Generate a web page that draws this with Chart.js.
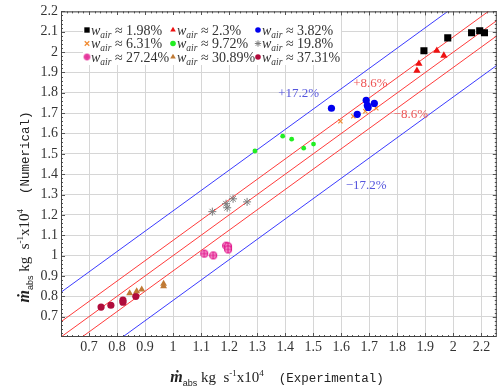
<!DOCTYPE html>
<html>
<head>
<meta charset="utf-8">
<script src="https://cdn.jsdelivr.net/npm/chart.js@4"></script>
<style>
  html, body { margin: 0; padding: 0; background: #fff; }
</style>
</head>
<body>
<canvas id="myChart" width="502" height="389"></canvas>
<script>
// DATA (experimental x, numerical y) per air fraction
const seriesLabels = ["1.98%", "2.3%", "3.82%", "6.31%", "9.72%", "19.8%", "27.24%", "30.89%", "37.31%"];

const w198X = [1.895, 1.980, 2.065, 2.094, 2.111];
const w198Y = [2.007, 2.070, 2.095, 2.105, 2.095];
const w23X = [1.870, 1.877, 1.941, 1.966];
const w23Y = [1.909, 1.943, 2.007, 1.983];
const w382X = [1.565, 1.657, 1.689, 1.693, 1.696, 1.718];
const w382Y = [1.724, 1.694, 1.763, 1.738, 1.728, 1.748];
const w631X = [1.597, 1.643, 1.686, 1.725];
const w631Y = [1.660, 1.685, 1.709, 1.724];
const w972X = [1.292, 1.391, 1.423, 1.466, 1.501];
const w972Y = [1.514, 1.587, 1.572, 1.528, 1.548];
const w198bX = [1.140, 1.189, 1.193, 1.214, 1.264];
const w198bY = [1.216, 1.255, 1.235, 1.279, 1.264];
const w2724X = [1.111, 1.143, 1.189, 1.196, 1.196];
const w2724Y = [1.010, 1.001, 1.049, 1.045, 1.030];
const w3089X = [0.845, 0.870, 0.888, 0.966, 0.966];
const w3089Y = [0.815, 0.825, 0.834, 0.862, 0.850];
const w3731X = [0.743, 0.778, 0.821, 0.821, 0.867];
const w3731Y = [0.747, 0.756, 0.781, 0.771, 0.800];

// error band lines (endpoints)
const bandX = [0.4, 2.4];
const bluePlusY = [0.62, 2.62];
const redPlusY = [0.475, 2.475];
const parityY = [0.4, 2.4];
const redMinusY = [0.325, 2.325];
const blueMinusY = [0.18, 2.18];

// band label anchors
const bandLabels = ["+17.2%", "+8.6%", "\u22128.6%", "\u221217.2%"];
const bandLabelX = [1.448, 1.704, 1.848, 1.689];
const bandLabelY = [1.797, 1.846, 1.694, 1.343];

// ticks
const xTickValues = [0.7, 0.8, 0.9, 1.0, 1.1, 1.2, 1.3, 1.4, 1.5, 1.6, 1.7, 1.8, 1.9, 2.0, 2.1];
const xTickLabels = ["0.7", "0.8", "0.9", "1", "1.1", "1.2", "1.3", "1.4", "1.5", "1.6", "1.7", "1.8", "1.9", "2", "2.2"];
const yTickValues = [0.7, 0.8, 0.9, 1.0, 1.1, 1.2, 1.3, 1.4, 1.5, 1.6, 1.7, 1.8, 1.9, 2.0, 2.1, 2.2];
const yTickLabels = ["0.7", "0.8", "0.9", "1", "1.1", "1.2", "1.3", "1.4", "1.5", "1.6", "1.7", "1.8", "1.9", "2", "2.1", "2.2"];

function pts(xs, ys) {
  return xs.map((x, i) => ({ x: x, y: ys[i] }));
}

function makeOplus(r, stroke, fill) {
  const c = document.createElement("canvas");
  const s = Math.ceil(r * 2 + 3);
  c.width = s;
  c.height = s;
  const g = c.getContext("2d");
  g.beginPath();
  g.arc(s / 2, s / 2, r, 0, 2 * Math.PI);
  g.fillStyle = fill;
  g.fill();
  g.strokeStyle = stroke;
  g.lineWidth = 1.1;
  g.stroke();
  g.beginPath();
  g.moveTo(s / 2 - r, s / 2);
  g.lineTo(s / 2 + r, s / 2);
  g.moveTo(s / 2, s / 2 - r);
  g.lineTo(s / 2, s / 2 + r);
  g.stroke();
  return c;
}
const oplusBig = makeOplus(3.5, "#e0158c", "#f7a0d0");
const oplusSmall = makeOplus(2.6, "#e0158c", "#f7a0d0");

function marker(label, xs, ys, style, color, radius, border, legendStyle) {
  return {
    label: label,
    data: pts(xs, ys),
    pointStyle: style,
    pointRadius: radius,
    backgroundColor: color,
    borderColor: color,
    pointBorderWidth: border,
    legendStyle: legendStyle || style,
    showLine: false,
  };
}

function band(ys, color) {
  return {
    data: pts(bandX, ys),
    showLine: true,
    borderColor: color,
    borderWidth: 1,
    pointRadius: 0,
    isBand: true,
  };
}

const datasets = [
  marker(seriesLabels[0], w198X, w198Y, "rect", "#000000", 5, 0),
  marker(seriesLabels[1], w23X, w23Y, "triangle", "#ee1111", 4.2, 0),
  marker(seriesLabels[2], w382X, w382Y, "circle", "#0000ee", 3.6, 0),
  marker(seriesLabels[3], w631X, w631Y, "crossRot", "#f08a30", 3, 1.2),
  marker(seriesLabels[4], w972X, w972Y, "circle", "#22ee22", 2.4, 0),
  marker(seriesLabels[5], w198bX, w198bY, "star", "#7a7a7a", 4, 1),
  marker(seriesLabels[6], w2724X, w2724Y, oplusBig, "#e0158c", 3.5, 1, oplusSmall),
  marker(seriesLabels[7], w3089X, w3089Y, "triangle", "#c07a35", 4, 0),
  marker(seriesLabels[8], w3731X, w3731Y, "circle", "#b00c3c", 3.6, 0),
  band(bluePlusY, "#3b3bff"),
  band(redPlusY, "#ff3b3b"),
  band(parityY, "#ff3b3b"),
  band(redMinusY, "#ff3b3b"),
  band(blueMinusY, "#3b3bff"),
];

const SERIF = "'Liberation Serif', 'DejaVu Serif', serif";

// draw a sequence of text runs, centered on (0,0) baseline
function drawRuns(ctx, runs) {
  let total = 0;
  runs.forEach((r) => {
    ctx.font = r.font;
    r.w = ctx.measureText(r.text).width;
    total += r.w;
  });
  let x = -total / 2;
  runs.forEach((r) => {
    ctx.font = r.font;
    ctx.fillText(r.text, x, r.dy || 0);
    x += r.w;
  });
}

function titleRuns(word) {
  return [
    { text: "\u1E41", font: "bold italic 16px " + SERIF },
    { text: "abs", font: "9px 'Liberation Sans', sans-serif", dy: 4 },
    { text: " kg  s", font: "15px " + SERIF },
    { text: "-1", font: "9px " + SERIF, dy: -6 },
    { text: "x10", font: "15px " + SERIF },
    { text: "4", font: "9px " + SERIF, dy: -6 },
    { text: "  (" + word + ")", font: "12.5px 'Liberation Mono', monospace" },
  ];
}

const decor = {
  id: "decor",
  beforeDatasetsDraw(chart) {
    const { ctx, chartArea: a, scales } = chart;
    ctx.save();
    ctx.strokeStyle = "#555";
    ctx.lineWidth = 1;
    // minor + major ticks inside the box
    for (let v = 0.6; v <= 2.2 + 1e-9; v += 0.02) {
      const major = Math.abs(v * 10 - Math.round(v * 10)) < 1e-6;
      const len = major ? 4 : 2;
      const px = Math.round(scales.x.getPixelForValue(v)) + 0.5;
      if (px > a.left && px < a.right) {
        ctx.beginPath();
        ctx.moveTo(px, a.bottom);
        ctx.lineTo(px, a.bottom - len);
        ctx.moveTo(px, a.top);
        ctx.lineTo(px, a.top + len);
        ctx.stroke();
      }
      const py = Math.round(scales.y.getPixelForValue(v)) + 0.5;
      if (py > a.top && py < a.bottom) {
        ctx.beginPath();
        ctx.moveTo(a.left, py);
        ctx.lineTo(a.left + len, py);
        ctx.moveTo(a.right, py);
        ctx.lineTo(a.right - len, py);
        ctx.stroke();
      }
    }
    ctx.restore();
  },
  afterDatasetsDraw(chart) {
    const { ctx, chartArea: a, scales } = chart;
    ctx.save();
    // frame
    ctx.strokeStyle = "#444";
    ctx.lineWidth = 1;
    ctx.strokeRect(a.left + 0.5, a.top + 0.5, a.right - a.left - 1, a.bottom - a.top - 1);

    // band labels
    ctx.font = "13px " + SERIF;
    ctx.textAlign = "center";
    ctx.textBaseline = "middle";
    const bandColors = ["#5555dd", "#ee5555", "#ee5555", "#5555dd"];
    bandLabels.forEach((t, i) => {
      ctx.fillStyle = bandColors[i];
      ctx.fillText(t, scales.x.getPixelForValue(bandLabelX[i]), scales.y.getPixelForValue(bandLabelY[i]));
    });

    // legend box
    ctx.fillStyle = "#fff";
    ctx.fillRect(83, 15, 258, 50);
    const cols = [87, 173, 258];
    const rows = [30, 43.5, 57];
    ctx.textAlign = "left";
    ctx.textBaseline = "alphabetic";
    chart.data.datasets.forEach((ds, i) => {
      if (ds.isBand) return;
      const cx = cols[i % 3];
      const cy = rows[Math.floor(i / 3)];
      ctx.fillStyle = ds.backgroundColor;
      ctx.strokeStyle = ds.borderColor;
      ctx.lineWidth = ds.pointBorderWidth || 1;
      const r = ds.legendStyle === "circle" ? 2.8 : ds.legendStyle === "rect" ? 3.8 : 3.2;
      Chart.helpers.drawPoint(ctx, { pointStyle: ds.legendStyle, radius: r, borderWidth: ds.pointBorderWidth, rotation: 0 }, cx, cy);
      ctx.fillStyle = "#333";
      let x = cx + 4;
      const base = cy + 4.5;
      ctx.font = "italic 14px " + SERIF;
      ctx.fillText("w", x, base);
      x += ctx.measureText("w").width;
      ctx.font = "italic 9.5px " + SERIF;
      ctx.fillText("air", x, base + 3);
      x += ctx.measureText("air").width;
      ctx.font = "14px " + SERIF;
      ctx.fillText(" \u2248 " + ds.label, x, base);
    });
    ctx.restore();
  },
  afterDraw(chart) {
    const { ctx } = chart;
    ctx.save();
    ctx.fillStyle = "#222";
    ctx.textAlign = "left";
    ctx.textBaseline = "alphabetic";
    ctx.translate(277, 382);
    drawRuns(ctx, titleRuns("Experimental"));
    ctx.restore();

    ctx.save();
    ctx.fillStyle = "#222";
    ctx.textAlign = "left";
    ctx.textBaseline = "alphabetic";
    ctx.translate(29, 207);
    ctx.rotate(-Math.PI / 2);
    drawRuns(ctx, titleRuns("Numerical"));
    ctx.restore();
  },
};

const tickFont = { family: SERIF, size: 14 };

new Chart(document.getElementById("myChart"), {
  type: "scatter",
  data: { datasets: datasets },
  options: {
    responsive: false,
    animation: false,
    layout: { padding: { left: 0, top: 10, right: 2, bottom: 0 } },
    plugins: {
      legend: { display: false },
      tooltip: { enabled: false },
    },
    scales: {
      x: {
        type: "linear",
        min: 0.6,
        max: 2.155,
        afterBuildTicks: (scale) => {
          scale.ticks = xTickValues.map((v) => ({ value: v }));
        },
        afterFit: (scale) => {
          scale.height = 52;
        },
        ticks: {
          autoSkip: false,
          maxRotation: 0,
          padding: 2,
          color: "#333",
          font: tickFont,
          callback: (value) => {
            const i = xTickValues.findIndex((v) => Math.abs(v - value) < 1e-6);
            return i >= 0 ? xTickLabels[i] : "";
          },
        },
        grid: { color: "#d6d6d6", drawTicks: false },
        border: { display: false },
      },
      y: {
        type: "linear",
        min: 0.6,
        max: 2.2,
        afterBuildTicks: (scale) => {
          scale.ticks = yTickValues.map((v) => ({ value: v }));
        },
        afterFit: (scale) => {
          scale.width = 61;
        },
        ticks: {
          autoSkip: false,
          padding: 3,
          color: "#333",
          font: tickFont,
          callback: (value) => {
            const i = yTickValues.findIndex((v) => Math.abs(v - value) < 1e-6);
            return i >= 0 ? yTickLabels[i] : "";
          },
        },
        grid: { color: "#d6d6d6", drawTicks: false },
        border: { display: false },
      },
    },
  },
  plugins: [decor],
});
</script>
</body>
</html>
